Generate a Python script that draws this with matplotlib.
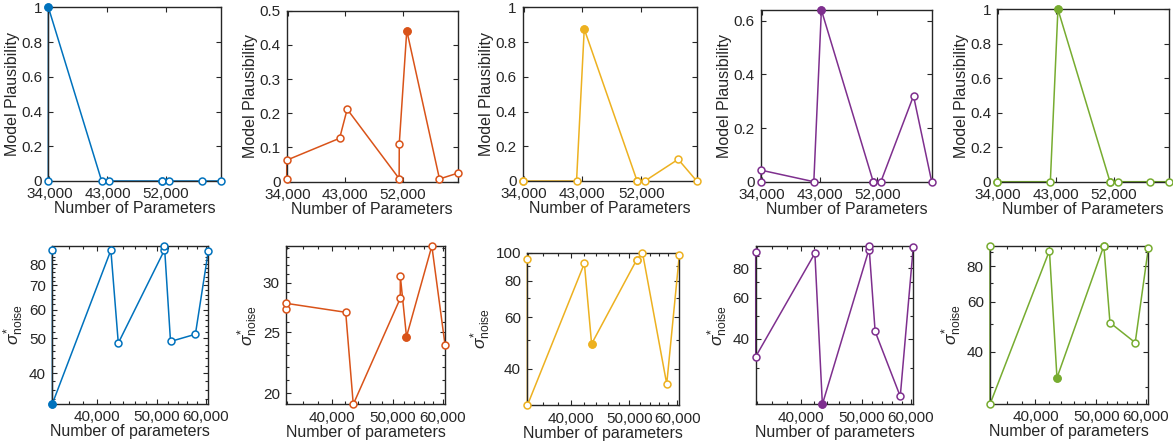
import numpy as np
import matplotlib
matplotlib.use("Agg")
import matplotlib.pyplot as plt
from matplotlib.ticker import FuncFormatter, FixedLocator, NullFormatter

plt.rcParams['font.family'] = ['Liberation Sans', 'DejaVu Sans']
plt.rcParams['mathtext.fontset'] = 'custom'
plt.rcParams['mathtext.rm'] = 'Liberation Sans'
plt.rcParams['mathtext.it'] = 'Liberation Sans:italic'

# ---- data ----
n_params = [33850, 33860, 42100, 43280, 51380, 51400, 52570, 57670, 60510]

plaus_blue = [0, 1, 0, 0, 0, 0, 0, 0, 0]
plaus_orange = [0.008, 0.063, 0.127, 0.212, 0.009, 0.111, 0.442, 0.008, 0.025]
plaus_yellow = [0, 0, 0, 0.875, 0, 0, 0, 0.125, 0]
plaus_purple = [0, 0.043, 0, 0.64, 0, 0, 0, 0.32, 0]
plaus_green = [0, 0, 0, 1, 0, 0, 0, 0, 0]

sigma_blue = [87.5, 33.0, 87.5, 48.5, 87.5, 89.7, 49.0, 51.3, 87.0]
sigma_orange = [27.2, 27.8, 26.9, 19.2, 28.3, 30.7, 24.6, 34.3, 23.9]
sigma_yellow = [95.3, 29.9, 91.9, 48.6, 94.3, 94.5, 100.0, 35.4, 97.9]
sigma_purple = [93.7, 33.6, 92.8, 21.0, 96.2, 99.4, 43.0, 22.7, 99.1]
sigma_green = [94.4, 26.1, 90.9, 32.3, 94.3, 94.4, 50.6, 43.0, 92.6]

best_index = [1, 6, 3, 3, 3]

top_xticks = [34000, 43000, 52000]
top_ymax = [1, 0.5, 1, 0.64, 1]
top_yticks = [[0, 0.2, 0.4, 0.6, 0.8, 1], [0, 0.1, 0.2, 0.3, 0.4, 0.5],
              [0, 0.2, 0.4, 0.6, 0.8, 1], [0, 0.2, 0.4, 0.6], [0, 0.2, 0.4, 0.6, 0.8, 1]]
bot_xticks = [40000, 50000, 60000]
bot_yticks = [[40, 50, 60, 70, 80], [20, 25, 30], [40, 60, 80, 100], [40, 60, 80], [40, 60, 80]]
bot_yminor_step = [2, 1, 10, 10, 10]

colors = ['#0072BD', '#D95319', '#EDB120', '#7E2F8E', '#77AC30']
plaus = [plaus_blue, plaus_orange, plaus_yellow, plaus_purple, plaus_green]
sigma = [sigma_blue, sigma_orange, sigma_yellow, sigma_purple, sigma_green]

W, H = 1173, 444
fig = plt.figure(figsize=(W / 100, H / 100), dpi=100)

top_pos = [(48.3, 7.3, 220.7, 181), (286.7, 10.7, 457.7, 181.7), (522.7, 7.3, 696.7, 181),
           (761, 10, 931.7, 181.7), (997.3, 9.3, 1168.7, 181.7)]
bot_pos = [(52.3, 246.3, 208.3, 403.7), (286, 246, 445, 404.3), (527.3, 252.7, 679.3, 405.3),
           (755.7, 246.3, 913.3, 404.3), (990, 246, 1148.3, 404)]

def fax(p):
    x0, y0, x1, y1 = p
    return fig.add_axes([x0 / W, 1 - y1 / H, (x1 - x0) / W, (y1 - y0) / H])

comma = FuncFormatter(lambda v, pos: '{:,.0f}'.format(v))
gfmt = FuncFormatter(lambda v, pos: '{:g}'.format(round(v, 6)))
edge = '#262626'

def style(ax):
    for s in ax.spines.values():
        s.set_color(edge)
        s.set_linewidth(1.0)
    ax.tick_params(which='both', direction='in', top=True, right=True, color=edge,
                   labelcolor='#262626', labelsize=11, width=0.8)
    ax.tick_params(which='major', length=3.5, pad=4.5)
    ax.tick_params(which='minor', length=2)

for i in range(5):
    c = colors[i]
    x = np.array(n_params)
    # top row
    ax = fax(top_pos[i])
    y = np.array(plaus[i])
    ax.plot(x, y, '-', color=c, lw=1.1, clip_on=False, zorder=2)
    ax.plot(x, y, 'o', color=c, mfc='white', mec=c, ms=5, mew=1.1, clip_on=False, zorder=3)
    b = best_index[i]
    ax.plot([x[b]], [y[b]], 'o', color=c, mfc=c, mec=c, ms=5, mew=1.1, clip_on=False, zorder=4)
    ax.set_xlim(x.min(), x.max())
    ax.set_ylim(0, top_ymax[i])
    ax.set_xticks(top_xticks)
    ax.xaxis.set_major_formatter(comma)
    ax.set_yticks(top_yticks[i])
    ax.yaxis.set_major_formatter(gfmt)
    style(ax)
    ax.set_xlabel('Number of Parameters', fontsize=11.5, color='#262626', labelpad=0)
    ax.set_ylabel('Model Plausibility', fontsize=11.5, color='#262626', labelpad=1)

    # bottom row
    ax = fax(bot_pos[i])
    y = np.array(sigma[i])
    ax.set_xscale('log')
    ax.set_yscale('log')
    ax.plot(x, y, '-', color=c, lw=1.1, clip_on=False, zorder=2)
    ax.plot(x, y, 'o', color=c, mfc='white', mec=c, ms=5, mew=1.1, clip_on=False, zorder=3)
    ax.plot([x[b]], [y[b]], 'o', color=c, mfc=c, mec=c, ms=5, mew=1.1, clip_on=False, zorder=4)
    ax.set_xlim(x.min(), x.max())
    ax.set_ylim(y.min(), y.max())
    ax.xaxis.set_major_locator(FixedLocator(bot_xticks))
    ax.xaxis.set_major_formatter(comma)
    ax.xaxis.set_minor_locator(FixedLocator(np.arange(30000, 62001, 2000)))
    ax.xaxis.set_minor_formatter(NullFormatter())
    ax.yaxis.set_major_locator(FixedLocator(bot_yticks[i]))
    ax.yaxis.set_major_formatter(gfmt)
    st = bot_yminor_step[i]
    ax.yaxis.set_minor_locator(FixedLocator(np.arange(10, 111, st)))
    ax.yaxis.set_minor_formatter(NullFormatter())
    style(ax)
    ax.set_xlabel('Number of parameters', fontsize=11.5, color='#262626', labelpad=0)
    ax.set_ylabel(r'$\sigma^{*}_{\rm noise}$', fontsize=12.5, color='#262626', labelpad=2)

fig.savefig('out.png', dpi=100)
